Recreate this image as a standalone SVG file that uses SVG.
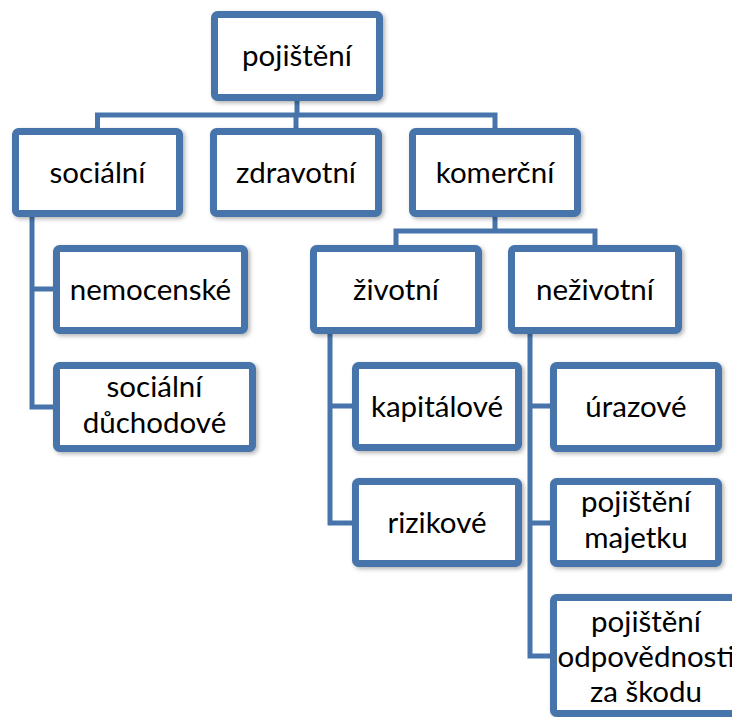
<svg xmlns="http://www.w3.org/2000/svg" width="732" height="717" viewBox="0 0 732 717">
<defs>
<filter id="sh" x="-10%" y="-10%" width="130%" height="130%">
<feDropShadow dx="2" dy="2" stdDeviation="2" flood-color="#000" flood-opacity="0.3"/>
</filter>
<style>
.box{fill:#fff;stroke:#4775AB;stroke-width:7;filter:url(#sh)}
.c{fill:none;stroke:#4775AB;stroke-width:5}
text{font-family:Lato,"Open Sans","Liberation Sans",sans-serif;font-size:29.5px;fill:#000;text-anchor:middle}
</style>
</defs>
<rect width="732" height="717" fill="#fff"/>
<g id="connectors">
<path class="c" d="M297,101V115M97.5,128V115H495V128M296,115V128"/>
<path class="c" d="M495,217V231M396,245V231H595V245"/>
<path class="c" d="M32,217V407H53M32,289H53"/>
<path class="c" d="M330,334V523H352M330,406H352"/>
<path class="c" d="M530,334V656H550M530,406H550M530,523H550"/>
</g>
<g id="n-pojisteni"><rect class="box" x="214.5" y="14.5" width="165" height="83" rx="3"/><text x="297" y="66">pojištění</text></g>
<g id="n-socialni"><rect class="box" x="15.5" y="131.5" width="164" height="82" rx="3"/><text x="97.5" y="183">sociální</text></g>
<g id="n-zdravotni"><rect class="box" x="213.5" y="131.5" width="165" height="82" rx="3"/><text x="296" y="183">zdravotní</text></g>
<g id="n-komercni"><rect class="box" x="412.5" y="131.5" width="165" height="82" rx="3"/><text x="495" y="183">komerční</text></g>
<g id="n-zivotni"><rect class="box" x="313.5" y="248.5" width="165" height="82" rx="3"/><text x="396" y="300">životní</text></g>
<g id="n-nezivotni"><rect class="box" x="511.5" y="248.5" width="167" height="82" rx="3"/><text x="595" y="300">neživotní</text></g>
<g id="n-nemocenske"><rect class="box" x="56.5" y="248.5" width="188" height="82" rx="3"/><text x="150.5" y="300">nemocenské</text></g>
<g id="n-socialni-duchodove"><rect class="box" x="56.5" y="365.5" width="196" height="83" rx="3"/><text x="154.5" y="397">sociální</text><text x="154.5" y="433">důchodové</text></g>
<g id="n-kapitalove"><rect class="box" x="355.5" y="365.5" width="163" height="82" rx="3"/><text x="437" y="417">kapitálové</text></g>
<g id="n-rizikove"><rect class="box" x="355.5" y="481.5" width="163" height="82" rx="3"/><text x="437" y="533">rizikové</text></g>
<g id="n-urazove"><rect class="box" x="553.5" y="365.5" width="165" height="83" rx="3"/><text x="636" y="417">úrazové</text></g>
<g id="n-majetku"><rect class="box" x="553.5" y="481.5" width="165" height="82" rx="3"/><text x="636" y="512">pojištění</text><text x="636" y="548">majetku</text></g>
<g id="n-odpovednosti"><rect class="box" x="553.5" y="597.5" width="185" height="116" rx="3"/><text x="646" y="632">pojištění</text><text x="646" y="667">odpovědnosti</text><text x="646" y="702">za škodu</text></g>
</svg>
